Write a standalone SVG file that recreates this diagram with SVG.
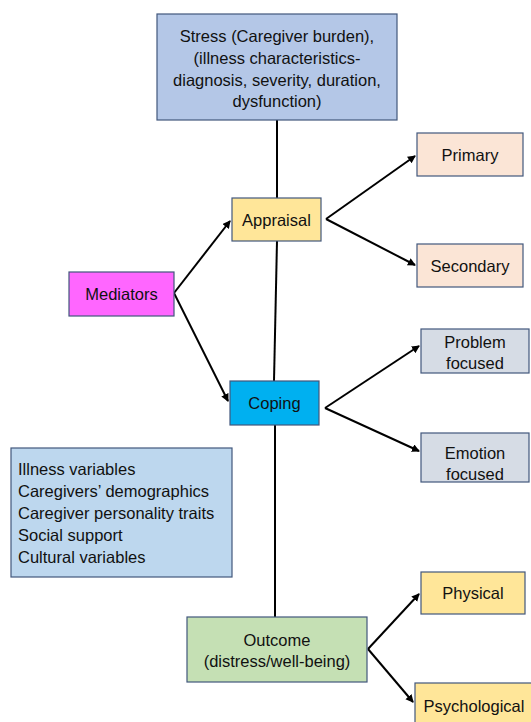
<svg xmlns="http://www.w3.org/2000/svg" width="531" height="722" viewBox="0 0 531 722">
<style>
.b{stroke:#42577c;stroke-width:1.2}
.t{font-family:"Liberation Sans",Arial,sans-serif;font-size:16.5px;fill:#111;text-anchor:middle}
.l{font-family:"Liberation Sans",Arial,sans-serif;font-size:16.5px;fill:#111}
.c{stroke:#000;stroke-width:2;fill:none}
.a{stroke:#000;stroke-width:2;fill:none;marker-end:url(#ah)}
</style>
<defs>
<marker id="ah" markerWidth="10" markerHeight="10" refX="7" refY="4" orient="auto" markerUnits="userSpaceOnUse">
<path d="M0,0 L8,4 L0,8 Z" fill="#000"/>
</marker>
</defs>
<rect width="531" height="722" fill="#fff"/>
<g id="connectors">
<line class="c" x1="277" y1="120" x2="277" y2="198"/>
<line class="c" x1="277" y1="241" x2="274" y2="381"/>
<line class="c" x1="275" y1="425" x2="275" y2="617"/>
<line class="a" x1="174" y1="293" x2="230" y2="221"/>
<line class="a" x1="174" y1="293" x2="228" y2="401"/>
<line class="a" x1="326" y1="219" x2="415" y2="156"/>
<line class="a" x1="326" y1="219" x2="415" y2="265"/>
<line class="a" x1="325" y1="408" x2="419" y2="346"/>
<line class="a" x1="325" y1="408" x2="419" y2="451"/>
<line class="a" x1="368" y1="649" x2="419" y2="594"/>
<line class="a" x1="368" y1="649" x2="413" y2="702"/>
</g>
<g id="stress">
<rect class="b" x="157" y="14" width="240" height="106" fill="#b4c7e7"/>
<text class="t" x="277" y="42">Stress (Caregiver burden),</text>
<text class="t" x="277" y="64">(illness characteristics-</text>
<text class="t" x="277" y="86">diagnosis, severity, duration,</text>
<text class="t" x="277" y="107">dysfunction)</text>
</g>
<g id="appraisal">
<rect class="b" x="232" y="198" width="89" height="43" fill="#ffe699"/>
<text class="t" x="276.5" y="226">Appraisal</text>
</g>
<g id="mediators">
<rect class="b" x="69" y="272" width="105" height="44" fill="#ff66ff"/>
<text class="t" x="121.5" y="300">Mediators</text>
</g>
<g id="coping">
<rect class="b" x="230" y="381" width="89" height="44" fill="#00b0f0"/>
<text class="t" x="274.5" y="409">Coping</text>
</g>
<g id="primary">
<rect class="b" x="417" y="133" width="106" height="43" fill="#fbe5d6"/>
<text class="t" x="470" y="161">Primary</text>
</g>
<g id="secondary">
<rect class="b" x="417" y="244" width="106" height="43" fill="#fbe5d6"/>
<text class="t" x="470" y="272">Secondary</text>
</g>
<g id="problem">
<rect class="b" x="421" y="329" width="108" height="44" fill="#d6dce5"/>
<text class="t" x="475" y="348">Problem</text>
<text class="t" x="475" y="369">focused</text>
</g>
<g id="emotion">
<rect class="b" x="421" y="433" width="108" height="49" fill="#d6dce5"/>
<text class="t" x="475" y="459">Emotion</text>
<text class="t" x="475" y="480">focused</text>
</g>
<g id="variables">
<rect class="b" x="11" y="448" width="221" height="129" fill="#bdd7ee"/>
<text class="l" x="18" y="475">Illness variables</text>
<text class="l" x="18" y="497">Caregivers’ demographics</text>
<text class="l" x="18" y="519">Caregiver personality traits</text>
<text class="l" x="18" y="541">Social support</text>
<text class="l" x="18" y="563">Cultural variables</text>
</g>
<g id="outcome">
<rect class="b" x="187" y="617" width="180" height="65" fill="#c5e0b4"/>
<text class="t" x="277" y="646">Outcome</text>
<text class="t" x="277" y="667">(distress/well-being)</text>
</g>
<g id="physical">
<rect class="b" x="421" y="572" width="104" height="42" fill="#ffe699"/>
<text class="t" x="473" y="599">Physical</text>
</g>
<g id="psychological">
<rect class="b" x="415" y="683" width="120" height="45" fill="#ffe699"/>
<text class="t" x="474" y="712">Psychological</text>
</g>
</svg>
